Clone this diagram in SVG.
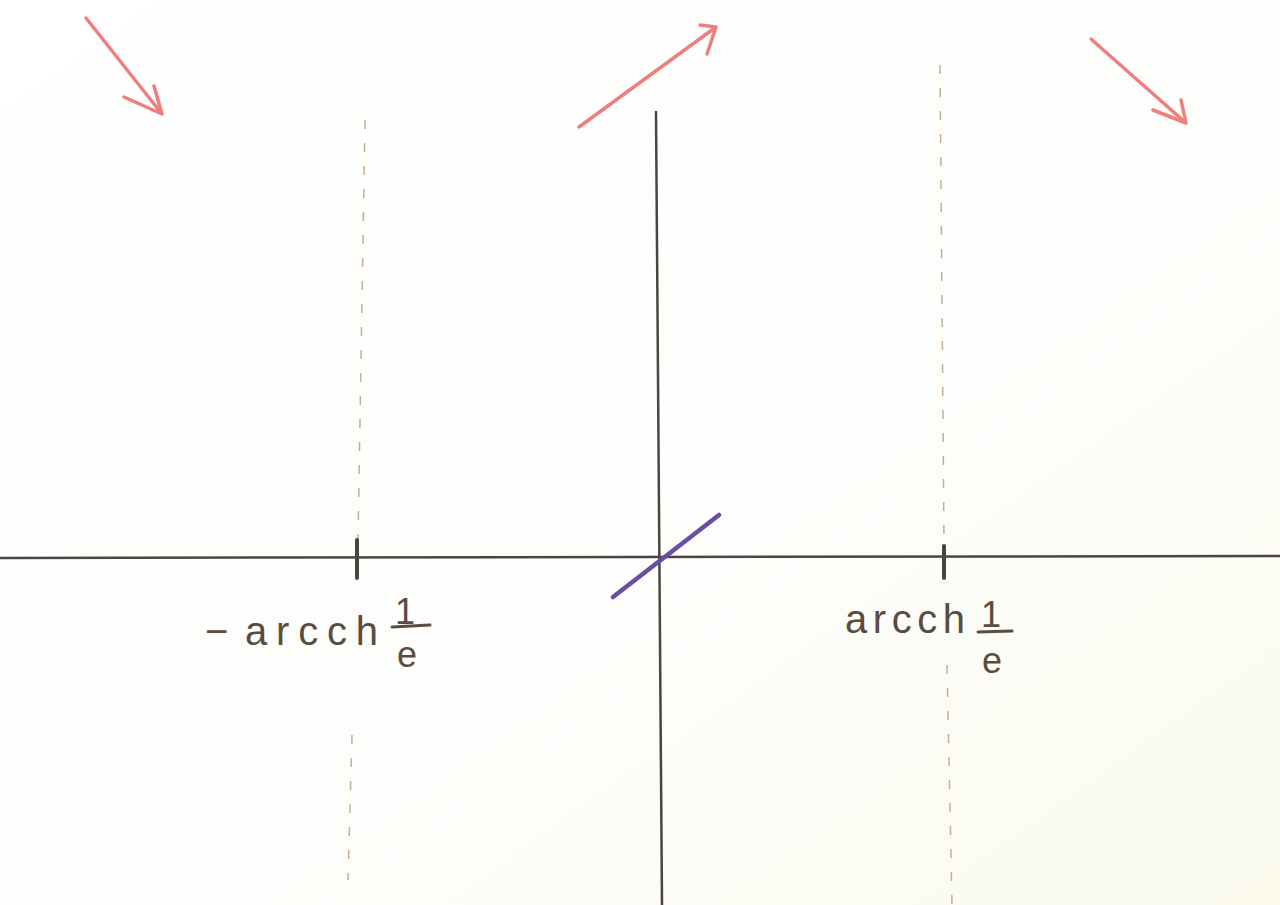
<svg xmlns="http://www.w3.org/2000/svg" width="1280" height="905" viewBox="0 0 1280 905">
  <defs>
    <linearGradient id="paper" x1="0" y1="0" x2="1" y2="1">
      <stop offset="0" stop-color="#ffffff"/>
      <stop offset="0.6" stop-color="#fdfdfb"/>
      <stop offset="1" stop-color="#fbfaed"/>
    </linearGradient>
    <style>
      .axis { stroke: #4a4540; stroke-width: 2.5; fill: none; stroke-linecap: round; }
      .tick { stroke: #4a4540; stroke-width: 4; fill: none; stroke-linecap: round; }
      .dash { stroke: #c9ad8a; stroke-width: 1.5; stroke-dasharray: 9 14; fill: none; }
      .red { stroke: #ef7f7c; stroke-width: 3.5; fill: none; stroke-linecap: round; stroke-linejoin: round; }
      .purple { stroke: #6a4ea3; stroke-width: 4.5; fill: none; stroke-linecap: round; }
      .lbl { font-family: "Liberation Sans", "DejaVu Sans", sans-serif; font-size: 40px; fill: #5a4c40; }
      .frac { font-family: "Liberation Sans", "DejaVu Sans", sans-serif; font-size: 36px; fill: #5a4c40; text-anchor: middle; }
      .bar { stroke: #5a4c40; stroke-width: 3; stroke-linecap: round; }
    </style>
  </defs>
  <rect width="1280" height="905" fill="url(#paper)"/>

  <g id="guides">
    <path class="dash" d="M365,120 L358,540"/>
    <path class="dash" d="M352,735 L348,880"/>
    <path class="dash" d="M940,65 L944,540"/>
    <path class="dash" d="M947,665 L952,905"/>
  </g>

  <g id="axes">
    <path id="x-axis" class="axis" d="M0,558 L1280,556"/>
    <path id="y-axis" class="axis" d="M656,112 L662,905"/>
    <path id="tick-left" class="tick" d="M357,540 L357,578"/>
    <path id="tick-right" class="tick" d="M944,546 L944,578"/>
  </g>

  <g id="curve">
    <path class="purple" d="M613,597 L719,515"/>
  </g>

  <g id="arrows">
    <path class="red" d="M86,18 L162,114 M124,97 L162,114 L154,86"/>
    <path class="red" d="M579,127 L716,27 M700,25 L716,27 L707,54"/>
    <path class="red" d="M1091,39 L1186,123 M1153,110 L1186,123 L1181,100"/>
  </g>

  <g id="label-left">
    <text class="lbl" x="205" y="645"><tspan>−</tspan><tspan x="245" textLength="133" lengthAdjust="spacing">arcch</tspan></text>
    <text class="frac" x="405" y="624">1</text>
    <line class="bar" x1="392" y1="627" x2="430" y2="625"/>
    <text class="frac" x="407" y="667">e</text>
  </g>

  <g id="label-right">
    <text class="lbl" x="845" y="633" textLength="120" lengthAdjust="spacing">arcch</text>
    <text class="frac" x="991" y="627">1</text>
    <line class="bar" x1="978" y1="632" x2="1012" y2="631"/>
    <text class="frac" x="992" y="673">e</text>
  </g>
</svg>
